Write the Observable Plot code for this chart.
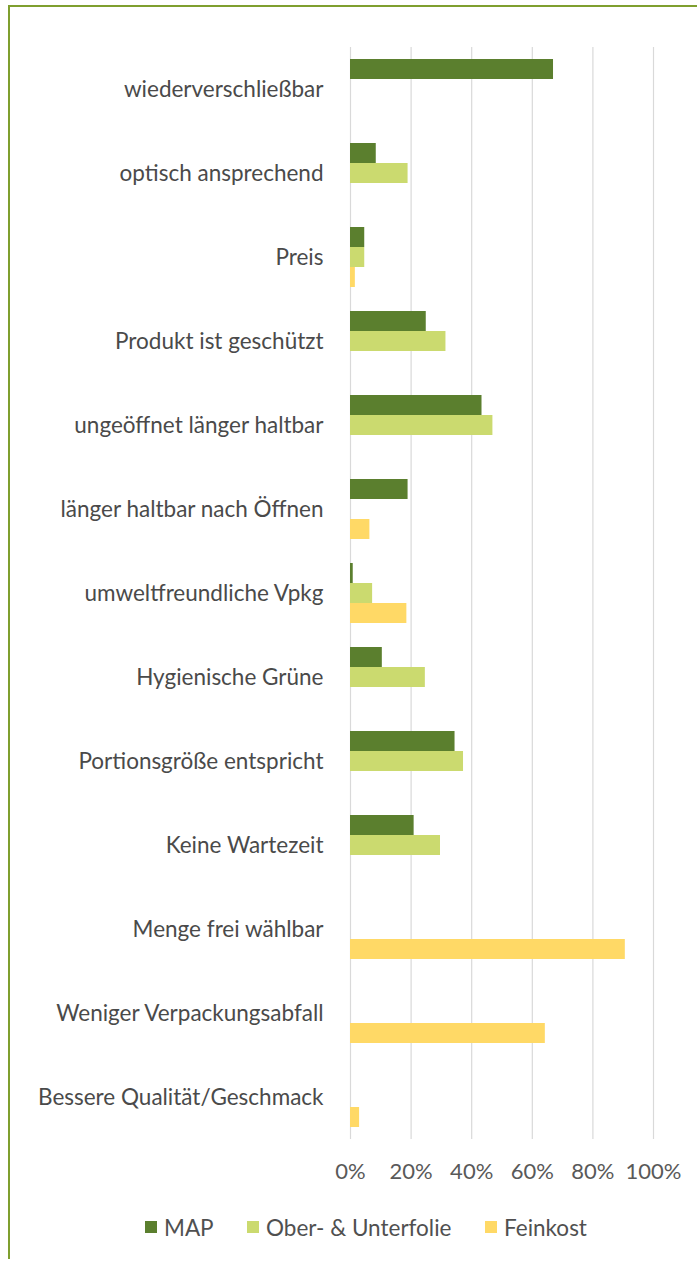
<!DOCTYPE html>
<html><head><meta charset="utf-8">
<script src="https://cdn.jsdelivr.net/npm/d3@7"></script>
<script src="https://cdn.jsdelivr.net/npm/@observablehq/plot@0.6"></script>
<style>
body{margin:0;background:#fff;font-family:Lato,"Open Sans",sans-serif;}
#frame{position:absolute;left:8px;top:5px;width:689px;height:1252px;border-top:2px solid #7f9f2f;border-left:2px solid #7f9f2f;}
#chart{position:absolute;left:0;top:0;}
#legend{position:absolute;top:1215px;left:0;width:697px;height:24px;font-size:22.5px;color:#505050;}
.item{position:absolute;top:0;display:flex;align-items:center;height:24px;}
.sw{width:12px;height:12px;margin-right:7px;}
</style></head><body>
<div id="frame"></div>
<div id="chart"></div>
<div id="legend"></div>
<script>
const categories = ["wiederverschließbar","optisch ansprechend","Preis","Produkt ist geschützt","ungeöffnet länger haltbar","länger haltbar nach Öffnen","umweltfreundliche Vpkg","Hygienische Grüne","Portionsgröße entspricht","Keine Wartezeit","Menge frei wählbar","Weniger Verpackungsabfall","Bessere Qualität/Geschmack"];
const series = ["MAP","Ober- & Unterfolie","Feinkost"];
const colors = ["#5b7f2e","#cbda6f","#ffd966"];
const mapValues   = [67, 8.5, 4.7, 25, 43.4, 19, 0.9, 10.5, 34.5, 21, 0, 0, 0];
const oberValues  = [0, 19, 4.7, 31.5, 47, 0, 7.3, 24.7, 37.3, 29.7, 0, 0, 0];
const feinValues  = [0, 0, 1.6, 0, 0, 6.4, 18.6, 0, 0, 0, 90.7, 64.3, 3];
const xTicks = [0,20,40,60,80,100];

const valuesBySeries = [mapValues, oberValues, feinValues];
const data = [];
categories.forEach((c,i) => series.forEach((s,j) => {
  const v = valuesBySeries[j][i];
  if (v > 0) data.push({category:c, series:s, value:v});
}));

const chart = Plot.plot({
  width: 697,
  height: 1200,
  marginLeft: 350,
  marginRight: 44,
  marginTop: 41,
  marginBottom: 56,
  style: {fontFamily: "Lato, 'Open Sans', sans-serif", background: "transparent"},
  x: {domain: [0,100], ticks: xTicks, tickFormat: d => d + "%", label: null},
  y: {domain: series, axis: null, paddingInner: 0, paddingOuter: 0.52},
  fy: {domain: categories, padding: 0, label: null},
  color: {domain: series, range: colors},
  marks: [
    Plot.ruleX(xTicks, {stroke: "#d9d9d9", strokeWidth: 1.2}),
    Plot.barX(data, {fy: "category", y: "series", x: "value", fill: "series"}),
    Plot.axisX({ticks: xTicks, tickFormat: d => d + "%", tickSize: 0, tickPadding: 24, fontSize: 22, fill: "#595959", label: null, facetAnchor: "bottom"}),
    Plot.axisFy({anchor: "left", tickSize: 0, tickPadding: 27, fontSize: 22.5, fill: "#4a4a4a", label: null})
  ]
});
document.getElementById("chart").append(chart);

const legendPos = [145, 247, 485];
const legend = document.getElementById("legend");
series.forEach((s,i) => {
  const it = document.createElement("div");
  it.className = "item";
  it.style.left = legendPos[i] + "px";
  it.innerHTML = `<span class="sw" style="background:${colors[i]}"></span><span>${s}</span>`;
  legend.append(it);
});
</script>
</body></html>
